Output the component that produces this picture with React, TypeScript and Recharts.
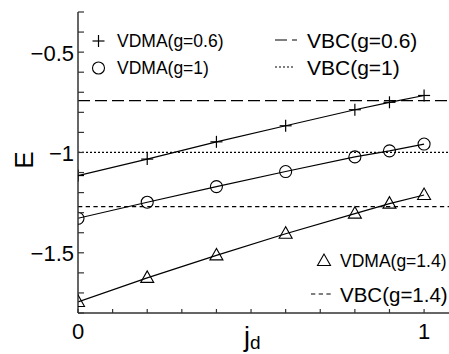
import React from 'react';
import { ComposedChart, Line, XAxis, YAxis, ReferenceLine } from 'recharts';

const jd = [0, 0.2, 0.4, 0.6, 0.8, 0.9, 1.0];
const vdma06 = [-1.115, -1.033, -0.947, -0.867, -0.787, -0.75, -0.716];
const vdma10 = [-1.328, -1.248, -1.17, -1.095, -1.022, -0.992, -0.958];
const vdma14 = [-1.745, -1.625, -1.513, -1.405, -1.305, -1.255, -1.212];
const vbc06 = -0.742;
const vbc10 = -1.0;
const vbc14 = -1.27;

const xTicks = [0, 0.1, 0.2, 0.3, 0.4, 0.5, 0.6, 0.7, 0.8, 0.9, 1.0];
const xTickLabels: Record<string, string> = { '0': '0', '1': '1' };
const yTicks = [-1.8, -1.7, -1.6, -1.5, -1.4, -1.3, -1.2, -1.1, -1.0, -0.9, -0.8, -0.7, -0.6, -0.5, -0.4, -0.3];
const yTickLabels: Record<string, string> = { '-0.5': '\u22120.5', '-1': '\u22121', '-1.5': '\u22121.5' };

const data = jd.map((x, i) => ({ x, a: vdma06[i], b: vdma10[i], c: vdma14[i] }));

const FONT = '"Liberation Sans", Arial, Helvetica, sans-serif';
const AX = '#333';

const PlusDot = (p: any) => {
  const { cx, cy } = p;
  if (cx == null || cy == null) return null;
  return (
    <g>
      <line x1={cx - 6} x2={cx + 6} y1={cy} y2={cy} stroke="#000" strokeWidth={1.2} />
      <line x1={cx} x2={cx} y1={cy - 6} y2={cy + 6} stroke="#000" strokeWidth={1.2} />
    </g>
  );
};
const CircleDot = (p: any) => {
  const { cx, cy } = p;
  if (cx == null || cy == null) return null;
  return <circle cx={cx} cy={cy} r={6} fill="none" stroke="#000" strokeWidth={1.1} />;
};
const TriDot = (p: any) => {
  const { cx, cy } = p;
  if (cx == null || cy == null) return null;
  return (
    <polygon
      points={`${cx},${cy - 7} ${cx - 6.5},${cy + 4.5} ${cx + 6.5},${cy + 4.5}`}
      fill="none"
      stroke="#000"
      strokeWidth={1.1}
    />
  );
};

const YTick = (p: any) => {
  const { x, y, payload } = p;
  const ax = x + 3;
  const lab = yTickLabels[String(payload.value)];
  return (
    <g>
      <line x1={ax} x2={ax + 6} y1={y} y2={y} stroke={AX} strokeWidth={1.2} />
      {lab && (
        <text x={x - 1} y={y + 1} textAnchor="end" dominantBaseline="central" fontSize={22} fontFamily={FONT} fill="#000">
          {lab}
        </text>
      )}
    </g>
  );
};

const XTick = (p: any) => {
  const { x, y, payload } = p;
  const ay = y - 6;
  const lab = xTickLabels[String(payload.value)];
  return (
    <g>
      <line x1={x} x2={x} y1={ay} y2={ay - 4} stroke={AX} strokeWidth={1.2} />
      {lab && (
        <text x={x} y={y + 4} textAnchor="middle" dominantBaseline="hanging" fontSize={22} fontFamily={FONT} fill="#000">
          {lab}
        </text>
      )}
    </g>
  );
};

const TopTick = (p: any) => {
  const { x, y } = p;
  return <line x1={x} x2={x} y1={y} y2={y + 4} stroke={AX} strokeWidth={1.2} />;
};

const Overlay = () => (
  <g fontFamily={FONT} fill="#000">
    <text x={24} y={160} fontSize={26} textAnchor="middle" dominantBaseline="central" transform="rotate(-90 24 160)">
      E
    </text>
    <text x={244} y={346} fontSize={27}>
      j<tspan fontSize={19} dy={3}>d</tspan>
    </text>
    <PlusDot cx={98.5} cy={41} />
    <text x={117} y={41} fontSize={17.5} dominantBaseline="central">VDMA(g=0.6)</text>
    <CircleDot cx={98.5} cy={68} />
    <text x={117} y={68} fontSize={17.5} dominantBaseline="central">VDMA(g=1)</text>
    <line x1={275} x2={297} y1={40} y2={40} stroke="#000" strokeWidth={1.2} strokeDasharray="12 5" />
    <text x={307} y={40} fontSize={21} dominantBaseline="central">VBC(g=0.6)</text>
    <line x1={275} x2={295} y1={67} y2={67} stroke="#000" strokeWidth={1.2} strokeDasharray="2 2" />
    <text x={307} y={67} fontSize={21} dominantBaseline="central">VBC(g=1)</text>
    <TriDot cx={324} cy={261} />
    <text x={340} y={261} fontSize={17.5} dominantBaseline="central">VDMA(g=1.4)</text>
    <line x1={311} x2={334} y1={294} y2={294} stroke="#000" strokeWidth={1.2} strokeDasharray="4.3 3.4" />
    <text x={340} y={294} fontSize={20.5} dominantBaseline="central">VBC(g=1.4)</text>
  </g>
);

export default function App() {
  return (
    <div style={{ position: 'absolute', left: 0, top: 0, width: 449, height: 354, background: '#fff' }}>
      <ComposedChart width={449} height={354} data={data} margin={{ top: 12, right: 0, left: 0, bottom: 0 }}>
        <XAxis
          dataKey="x"
          type="number"
          domain={[0, 1.072]}
          ticks={xTicks}
          allowDataOverflow
          height={41}
          tickSize={0}
          tickMargin={6}
          tick={<XTick />}
          axisLine={{ stroke: AX, strokeWidth: 1.5 }}
          interval={0}
        />
        <XAxis
          xAxisId="top"
          orientation="top"
          dataKey="x"
          type="number"
          domain={[0, 1.072]}
          ticks={xTicks}
          allowDataOverflow
          height={0}
          tickSize={0}
          tickMargin={0}
          tick={<TopTick />}
          axisLine={{ stroke: AX, strokeWidth: 1.5 }}
          interval={0}
        />
        <YAxis
          type="number"
          domain={[-1.8, -0.3]}
          ticks={yTicks}
          allowDataOverflow
          width={78}
          tickSize={0}
          tickMargin={3}
          tick={<YTick />}
          axisLine={{ stroke: AX, strokeWidth: 1.5 }}
          interval={0}
        />
        <ReferenceLine y={vbc06} stroke="#000" strokeWidth={1.2} strokeDasharray="12 5" ifOverflow="hidden" />
        <ReferenceLine y={vbc10} stroke="#000" strokeWidth={1.2} strokeDasharray="2 2" ifOverflow="hidden" />
        <ReferenceLine y={vbc14} stroke="#000" strokeWidth={1.2} strokeDasharray="4.3 3.4" ifOverflow="hidden" />
        <Line dataKey="a" stroke="#000" strokeWidth={1.2} dot={<PlusDot />} isAnimationActive={false} />
        <Line dataKey="b" stroke="#000" strokeWidth={1.2} dot={<CircleDot />} isAnimationActive={false} />
        <Line dataKey="c" stroke="#000" strokeWidth={1.2} dot={<TriDot />} isAnimationActive={false} />
        <Overlay />
      </ComposedChart>
    </div>
  );
}
